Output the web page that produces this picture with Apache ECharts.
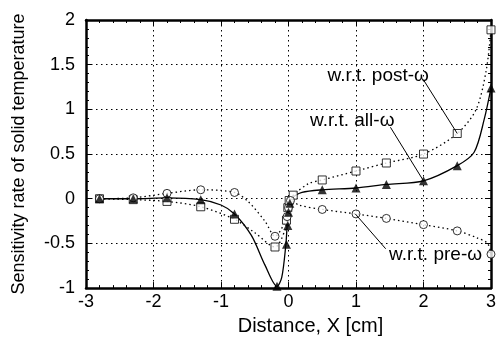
<!DOCTYPE html>
<html>
<head>
<meta charset="utf-8">
<script src="https://cdn.jsdelivr.net/npm/echarts@6/dist/echarts.min.js"></script>
<style>
  html, body { margin: 0; background: #fff; }
  #chart { width: 499px; height: 341px; }
</style>
</head>
<body>
<div id="chart"></div>
<script>
// markers
const postX = [-2.8, -2.3, -1.8, -1.3, -0.8, -0.2, -0.03, -0.01, 0.01, 0.07, 0.5, 1.0, 1.45, 2.0, 2.5, 3.0];
const postY = [0, -0.01, -0.03, -0.09, -0.23, -0.54, -0.24, -0.1, -0.02, 0.04, 0.21, 0.31, 0.40, 0.50, 0.73, 1.89];
const allX = [-2.8, -2.3, -1.8, -1.3, -0.8, -0.17, -0.03, -0.01, 0.0, 0.02, 0.5, 1.0, 1.45, 2.0, 2.5, 3.0];
const allY = [0, 0, 0.01, -0.01, -0.17, -0.98, -0.51, -0.3, -0.15, -0.05, 0.10, 0.12, 0.16, 0.20, 0.37, 1.24];
const preX = [-2.8, -2.3, -1.8, -1.3, -0.8, -0.2, -0.02, 0.0, 0.03, 0.5, 1.0, 1.45, 2.0, 2.5, 3.0];
const preY = [0, 0.01, 0.06, 0.10, 0.07, -0.42, -0.2, -0.1, -0.02, -0.12, -0.17, -0.22, -0.29, -0.36, -0.62];

// curves as traced on the figure
const postCurveX = [-2.8, -2.3, -1.8, -1.3, -0.8, -0.5, -0.2, -0.05, -0.03, 0, 0.07, 0.3, 0.5, 1.0, 1.45, 2.0, 2.5, 2.78, 2.93, 3.0];
const postCurveY = [0, -0.01, -0.03, -0.09, -0.23, -0.38, -0.54, -0.35, -0.24, -0.05, 0.04, 0.17, 0.21, 0.31, 0.40, 0.50, 0.73, 1.0, 1.44, 1.89];
const allCurveX = [-2.8, -2.3, -1.8, -1.3, -1.0, -0.8, -0.55, -0.35, -0.17, -0.1, -0.04, -0.02, 0, 0.05, 0.2, 0.5, 1.0, 1.45, 2.0, 2.5, 2.75, 2.9, 3.0];
const allCurveY = [0, 0, 0.01, -0.01, -0.07, -0.17, -0.41, -0.74, -0.98, -0.88, -0.52, -0.3, -0.12, 0.0, 0.07, 0.10, 0.12, 0.16, 0.20, 0.37, 0.52, 0.89, 1.24];
const preCurveX = [-2.8, -2.3, -1.8, -1.3, -0.8, -0.6, -0.35, -0.2, -0.05, 0, 0.05, 0.15, 0.5, 1.0, 1.45, 2.0, 2.5, 2.8, 2.95, 3.0];
const preCurveY = [0, 0.01, 0.06, 0.10, 0.07, -0.03, -0.25, -0.42, -0.25, -0.05, -0.02, -0.07, -0.12, -0.17, -0.22, -0.29, -0.36, -0.44, -0.5, -0.62];

// callouts: text anchor, leader start, leader end (data units)
const notes = [
  { text: 'w.r.t. post-ω', at: [2.08, 1.38], align: 'right', from: [2.0, 1.33], to: [2.5, 0.73] },
  { text: 'w.r.t. all-ω', at: [1.57, 0.87], align: 'right', from: [1.51, 0.80], to: [2.0, 0.20] },
  { text: 'w.r.t. pre-ω', at: [1.49, -0.63], align: 'left', from: [1.44, -0.56], to: [0.99, -0.17] }
];

const zip = (xs, ys) => xs.map((x, i) => [x, ys[i]]);
const FONT = 'Liberation Sans, Arial, sans-serif';

const frameAxis = (extra) => Object.assign({
  type: 'value',
  axisLine: { show: true, onZero: false, lineStyle: { color: '#000', width: 2.5 } },
  axisTick: { show: true, inside: true, length: 6, lineStyle: { color: '#000', width: 1 } },
  minorTick: { show: true, splitNumber: 5, length: 3, lineStyle: { color: '#000', width: 1 } },
  splitLine: { show: false },
  axisLabel: { show: false }
}, extra);

const dotted = { color: '#000', width: 1, type: [1.5, 3.5] };

const chart = echarts.init(document.getElementById('chart'), null, { renderer: 'canvas' });

const option = {
  backgroundColor: '#fff',
  animation: false,
  grid: { left: 86, right: 4, top: 20, bottom: 51 },
  xAxis: [
    frameAxis({
      min: -3, max: 3, interval: 1, position: 'bottom',
      splitLine: { show: true, lineStyle: dotted },
      axisLabel: { show: true, color: '#000', fontSize: 18, fontFamily: FONT, margin: 5 },
      name: 'Distance, X [cm]', nameLocation: 'middle', nameGap: 27,
      nameTextStyle: { color: '#000', fontSize: 20, fontFamily: FONT, padding: [0, 0, 0, 44] }
    }),
    frameAxis({ min: -3, max: 3, interval: 1, position: 'top' })
  ],
  yAxis: [
    frameAxis({
      min: -1, max: 2, interval: 0.5, position: 'left',
      splitLine: { show: true, lineStyle: dotted },
      axisLabel: { show: true, color: '#000', fontSize: 18, fontFamily: FONT, margin: 11 },
      name: 'Sensitivity rate of solid temperature', nameLocation: 'middle', nameGap: 58,
      nameTextStyle: { color: '#000', fontSize: 18, fontFamily: FONT }
    }),
    frameAxis({ min: -1, max: 2, interval: 0.5, position: 'right' })
  ],
  series: [
    {
      type: 'line', data: zip(postCurveX, postCurveY), smooth: 0.3, showSymbol: false,
      lineStyle: { color: '#000', width: 1.3, type: [1.5, 3] }, z: 2
    },
    {
      type: 'line', data: zip(preCurveX, preCurveY), smooth: 0.3, showSymbol: false,
      lineStyle: { color: '#000', width: 1.3, type: [1.5, 3] }, z: 2
    },
    {
      type: 'line', data: zip(allCurveX, allCurveY), smooth: 0.3, showSymbol: false,
      lineStyle: { color: '#000', width: 1.3 }, z: 2
    },
    {
      type: 'scatter', data: zip(postX, postY), symbol: 'rect', symbolSize: 8,
      itemStyle: { color: '#fff', borderColor: '#000', borderWidth: 1 }, z: 3
    },
    {
      type: 'scatter', data: zip(preX, preY), symbol: 'circle', symbolSize: 8,
      itemStyle: { color: '#fff', borderColor: '#000', borderWidth: 1 }, z: 3
    },
    {
      type: 'scatter', data: zip(allX, allY), symbol: 'triangle', symbolSize: 9,
      itemStyle: { color: '#000' }, z: 4
    }
  ]
};

chart.setOption(option);

const px = (p) => chart.convertToPixel({ gridIndex: 0 }, p);
const graphics = [];
notes.forEach((n) => {
  const a = px(n.from), b = px(n.to), t = px(n.at);
  graphics.push({
    type: 'line', shape: { x1: a[0], y1: a[1], x2: b[0], y2: b[1] },
    style: { stroke: '#000', lineWidth: 1 }, z: 10
  });
  graphics.push({
    type: 'text', x: t[0], y: t[1], z: 11,
    style: { text: n.text, fill: '#000', font: '19px ' + FONT, align: n.align, verticalAlign: 'middle' }
  });
});
chart.setOption({ graphic: graphics });
</script>
</body>
</html>
